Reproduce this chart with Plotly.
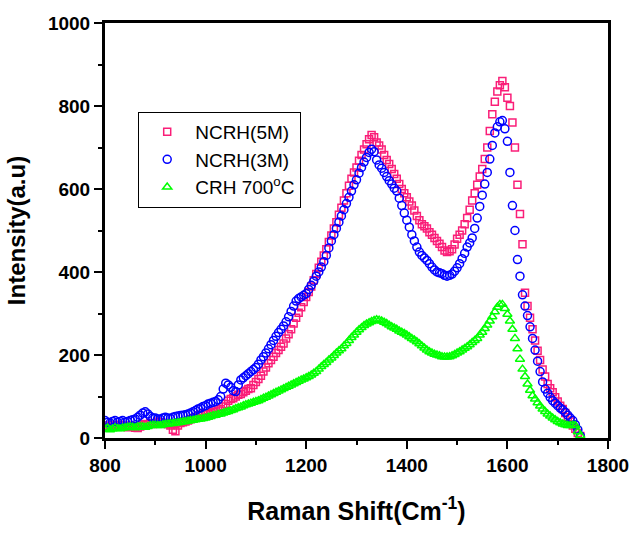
import plotly.graph_objects as go

# Raman shift grid (cm^-1), sampled every 5 cm^-1 from 800 to 1745
x_shift = list(range(800, 1750, 5))

ncrh_5m = [30, 26, 28, 32, 30, 27, 32, 30, 28, 26,
           30, 28, 25, 24, 28, 32, 34, 33, 36, 34,
           35, 40, 38, 35, 36, 33, 30, 20, 16, 30,
           36, 38, 40, 42, 45, 48, 50, 54, 56, 60,
           58, 57, 60, 62, 64, 66, 70, 76, 82, 90,
           94, 96, 100, 104, 106, 110, 114, 118, 120, 128,
           135, 142, 150, 160, 170, 180, 188, 196, 205, 212,
           220, 228, 240, 250, 262, 276, 290, 302, 315, 328,
           340, 352, 365, 380, 395, 410, 425, 440, 455, 472,
           488, 505, 520, 538, 555, 572, 590, 608, 625, 640,
           652, 668, 682, 695, 708, 720, 730, 725, 712, 705,
           695, 682, 670, 660, 648, 636, 625, 612, 600, 590,
           580, 570, 560, 548, 535, 525, 515, 510, 505, 496,
           490, 482, 475, 468, 460, 452, 448, 450, 455, 466,
           480, 490, 500, 515, 530, 550, 572, 590, 610, 630,
           648, 672, 700, 740, 780, 810, 835, 850, 860, 845,
           820, 800, 760, 700, 610, 540, 467, 350, 318, 290,
           262, 235, 210, 188, 165, 148, 130, 120, 110, 98,
           88, 78, 70, 60, 50, 40, 30, 22, 12, 5]

ncrh_3m = [42, 38, 36, 40, 42, 38, 40, 42, 38, 40,
           42, 44, 46, 50, 55, 60, 63, 58, 52, 48,
           48, 46, 45, 48, 50, 48, 47, 50, 52, 53,
           54, 55, 56, 58, 60, 63, 66, 70, 72, 76,
           78, 82, 84, 86, 88, 92, 100, 118, 132, 128,
           122, 114, 112, 128, 140, 145, 150, 155, 160, 165,
           170, 178, 188, 196, 205, 215, 225, 235, 245, 254,
           262, 270, 280, 292, 305, 318, 330, 336, 340, 344,
           348, 358, 368, 378, 390, 400, 412, 425, 440, 458,
           475, 490, 505, 520, 535, 550, 565, 580, 595, 610,
           622, 638, 652, 665, 676, 688, 696, 690, 670, 658,
           650, 640, 630, 620, 612, 602, 595, 578, 560, 542,
           525, 508, 490, 475, 460, 448, 440, 434, 428, 420,
           412, 405, 400, 398, 396, 392, 390, 392, 395, 402,
           410, 420, 432, 445, 460, 470, 482, 505, 530, 558,
           585, 612, 640, 672, 705, 735, 750, 762, 765, 745,
           715, 640, 560, 500, 430, 390, 345, 318, 295, 268,
           240, 212, 185, 160, 135, 118, 108, 98, 90, 84,
           78, 72, 68, 62, 55, 48, 42, 32, 20, 5]

crh_700 = [22, 24, 20, 22, 25, 23, 22, 24, 25, 26,
           27, 26, 25, 27, 28, 27, 26, 28, 30, 31,
           31, 30, 30, 32, 33, 34, 35, 35, 36, 37,
           38, 39, 40, 41, 42, 43, 44, 45, 46, 47,
           48, 50, 52, 54, 55, 57, 58, 60, 62, 64,
           66, 68, 71, 73, 75, 78, 80, 82, 84, 86,
           88, 90, 93, 96, 98, 101, 104, 107, 110, 113,
           116, 119, 122, 125, 128, 131, 134, 137, 140, 142,
           145, 148, 152, 156, 160, 166, 172, 177, 182, 188,
           193, 199, 205, 210, 215, 222, 228, 235, 242, 248,
           255, 261, 266, 271, 275, 278, 281, 283, 285, 284,
           282, 279, 276, 272, 268, 265, 262, 258, 255, 252,
           248, 244, 240, 236, 232, 227, 222, 217, 212, 208,
           205, 202, 200, 198, 196, 195, 195, 196, 198, 201,
           205, 208, 212, 216, 220, 225, 230, 235, 240, 248,
           255, 264, 272, 282, 292, 304, 315, 322, 322, 312,
           298, 282, 262, 240, 215, 190, 166, 148, 130, 115,
           102, 94, 85, 77, 70, 64, 58, 53, 48, 44,
           40, 37, 34, 32, 30, 30, 31, 30, 15, 6]

assert len(ncrh_5m) == len(x_shift) == len(ncrh_3m) == len(crh_700)

x_ticks = [800, 1000, 1200, 1400, 1600, 1800]
y_ticks = [0, 200, 400, 600, 800, 1000]

FONT = "Arial, Liberation Sans, sans-serif"

fig = go.Figure()
series = [
    ("NCRH(5M)", ncrh_5m, "square-open", "#FA1E78", 7),
    ("NCRH(3M)", ncrh_3m, "circle-open", "#0000FF", 8),
    ("CRH 700<sup>o</sup>C", crh_700, "triangle-up-open", "#00FF00", 8),
]
for name, ys, sym, col, sz in series:
    fig.add_trace(go.Scatter(
        x=x_shift, y=ys, mode="markers", name=name,
        marker=dict(symbol=sym, size=sz, color=col, line=dict(width=1.5, color=col)),
    ))

axis_common = dict(showgrid=False, zeroline=False, linecolor="black", linewidth=3,
                   tickcolor="black", tickwidth=2)

fig.update_layout(
    width=641, height=533,
    margin=dict(l=105, r=24, t=23, b=90),
    paper_bgcolor="white", plot_bgcolor="white",
    font=dict(family=FONT, color="black"),
    showlegend=True,
    legend=dict(x=0.066, y=0.786, xanchor="left", yanchor="top",
                bgcolor="white", bordercolor="black", borderwidth=1,
                font=dict(size=19, family=FONT), itemwidth=46,
                tracegroupgap=0, itemsizing="trace"),
    xaxis=dict(range=[800, 1800], tickvals=x_ticks, ticks="outside", ticklen=8,
               tickfont=dict(size=19, family=FONT, weight="bold"),
               minor=dict(ticks="outside", ticklen=4, dtick=100, tick0=900,
                          tickcolor="black", tickwidth=2),
               title=dict(text="<b>Raman Shift(Cm<sup>-1</sup>)</b>",
                          font=dict(size=25, family=FONT), standoff=28),
               mirror=True, **axis_common),
    yaxis=dict(range=[0, 1000], tickvals=y_ticks, ticks="outside", ticklen=8,
               tickfont=dict(size=19, family=FONT, weight="bold"),
               minor=dict(ticks="outside", ticklen=4, dtick=100, tick0=100,
                          tickcolor="black", tickwidth=2),
               title=dict(text="<b>Intensity(a.u)</b>",
                          font=dict(size=24, family=FONT), standoff=16),
               mirror=True, **axis_common),
    xaxis2=dict(range=[800, 1800], overlaying="x", side="top", anchor="y",
                tickvals=x_ticks, ticks="inside", ticklen=7, showticklabels=False,
                minor=dict(ticks="inside", ticklen=4, dtick=100, tick0=900,
                           tickcolor="black", tickwidth=2),
                **axis_common),
    yaxis2=dict(range=[0, 1000], overlaying="y", side="right", anchor="x",
                tickvals=y_ticks, ticks="inside", ticklen=7, showticklabels=False,
                minor=dict(ticks="inside", ticklen=4, dtick=100, tick0=100,
                           tickcolor="black", tickwidth=2),
                **axis_common),
)

fig.write_html("out.html")
